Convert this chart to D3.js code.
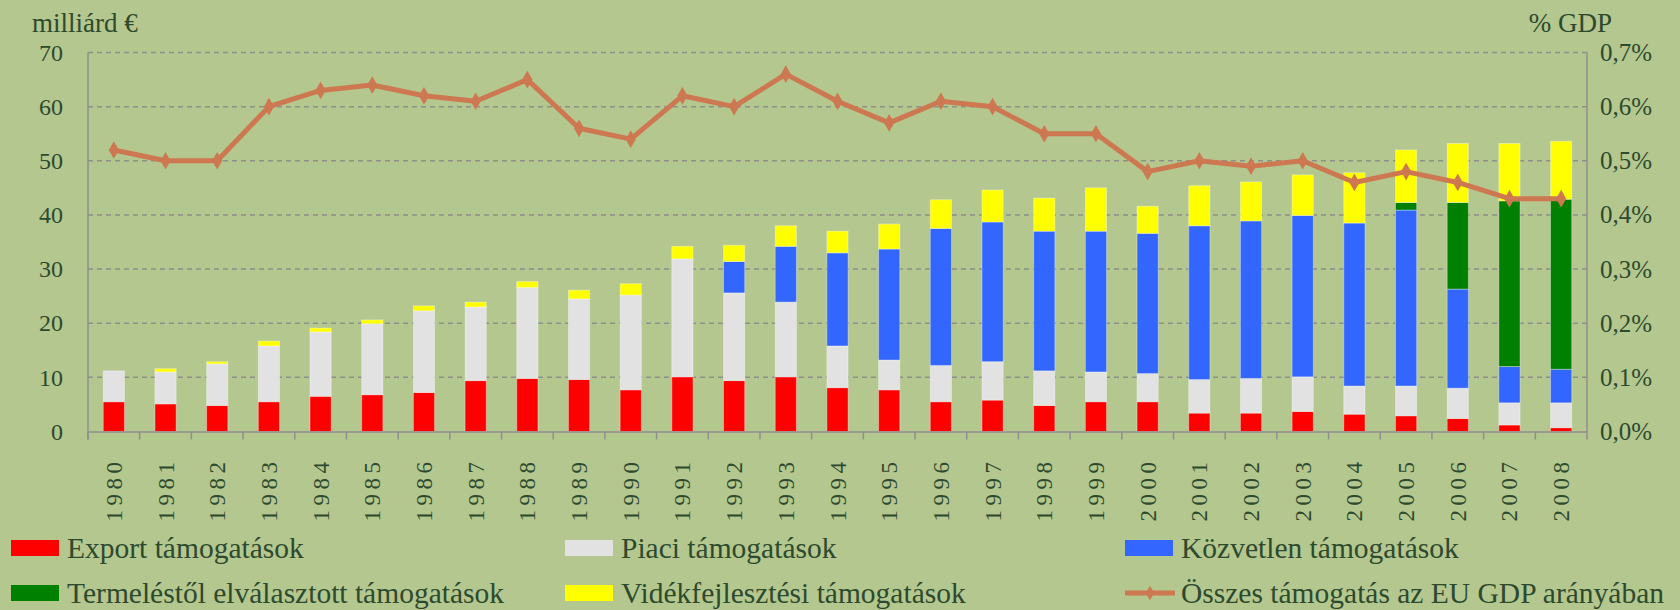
<!DOCTYPE html>
<html>
<head>
<meta charset="utf-8">
<script src="https://cdn.jsdelivr.net/npm/d3@7"></script>
<style>
  body { margin: 0; background: #b3c78f; }
  svg { display: block; }
  text { font-family: "Liberation Serif", "DejaVu Serif", serif; fill: #2e4a2e; }
</style>
</head>
<body>
<main></main>
<script>
const WIDTH = 1680
const HEIGHT = 610

// data (milliárd €)
const years = ['1980','1981','1982','1983','1984','1985','1986','1987','1988','1989','1990','1991','1992','1993','1994','1995','1996','1997','1998','1999','2000','2001','2002','2003','2004','2005','2006','2007','2008']
const exportVals  = [5.5,5.1,4.8,5.5,6.5,6.8,7.2,9.4,9.8,9.6,7.7,10.1,9.4,10.1,8.1,7.7,5.5,5.8,4.8,5.5,5.5,3.4,3.4,3.7,3.2,2.9,2.4,1.2,0.7]
const piaciVals   = [5.7,5.9,7.7,10.3,11.9,13.1,15.1,13.6,16.8,14.9,17.5,21.8,16.2,13.8,7.7,5.5,6.7,7.1,6.4,5.5,5.2,6.2,6.4,6.4,5.2,5.5,5.6,4.1,4.6]
const kozvetlenVals = [0,0,0,0,0,0,0,0,0,0,0,0,5.8,10.3,17.2,20.5,25.3,25.8,25.8,26.0,25.9,28.4,29.1,29.8,30.1,32.5,18.3,6.7,6.2]
const termelesVals = [0,0,0,0,0,0,0,0,0,0,0,0,0,0,0,0,0,0,0,0,0,0,0,0,0,1.4,16.0,30.6,31.4]
const videkVals   = [0,0.6,0.4,0.9,0.7,0.7,0.9,0.9,1.1,1.6,2.1,2.3,3.0,3.8,4.0,4.6,5.3,5.9,6.1,8.0,5.0,7.4,7.2,7.5,9.3,9.7,10.9,10.6,10.7]
// összes támogatás az EU GDP arányában (%)
const gdpShare = [0.52,0.50,0.50,0.60,0.63,0.64,0.62,0.61,0.65,0.56,0.54,0.62,0.60,0.66,0.61,0.57,0.61,0.60,0.55,0.55,0.48,0.50,0.49,0.50,0.46,0.48,0.46,0.43,0.43]

const leftTicks = [0,10,20,30,40,50,60,70]
const rightTicks = [0,0.1,0.2,0.3,0.4,0.5,0.6,0.7]

const seriesNames = ['Export támogatások','Piaci támogatások','Közvetlen támogatások','Termeléstől elválasztott támogatások','Vidékfejlesztési támogatások']
const lineName = 'Összes támogatás az EU GDP arányában'
const colors = ['#ff0000','#e2e2e2','#3366ff','#008000','#ffff00']
const lineColor = '#cd7850'

const plotLeft = 88, plotRight = 1587, plotTop = 52.5, plotBottom = 431.5

const svgCanvas = d3.select('main').append('svg')
  .attr('width', WIDTH)
  .attr('height', HEIGHT)

svgCanvas.append('rect').attr('width', WIDTH).attr('height', HEIGHT).attr('fill', '#b3c78f')

const x = d3.scaleBand().domain(years).range([plotLeft, plotRight]).padding(0)
const y = d3.scaleLinear().domain([0, 70]).range([plotBottom, plotTop])
const yR = d3.scaleLinear().domain([0, 0.7]).range([plotBottom, plotTop])

// gridlines
svgCanvas.selectAll('line.grid')
  .data(leftTicks.slice(1))
  .enter()
  .append('line')
  .attr('class', 'grid')
  .attr('x1', plotLeft).attr('x2', plotRight)
  .attr('y1', d => y(d)).attr('y2', d => y(d))
  .style('stroke', '#8d918a')
  .style('stroke-width', 1.5)
  .style('stroke-dasharray', '5,4')

// stacked bars
const table = years.map((yr, i) => ({
  year: yr,
  s0: exportVals[i], s1: piaciVals[i], s2: kozvetlenVals[i], s3: termelesVals[i], s4: videkVals[i]
}))
const stack = d3.stack().keys(['s0','s1','s2','s3','s4'])
const layers = stack(table)
const barW = x.bandwidth() * 0.41

svgCanvas.selectAll('g.layer')
  .data(layers)
  .enter()
  .append('g')
  .attr('class', 'layer')
  .attr('fill', (d, i) => colors[i])
  .selectAll('rect')
  .data(d => d.filter(p => p[1] - p[0] > 0))
  .enter()
  .append('rect')
  .attr('x', d => x(d.data.year) + (x.bandwidth() - barW) / 2)
  .attr('width', barW)
  .attr('y', d => y(d[1]))
  .attr('height', d => y(d[0]) - y(d[1]))
  .style('stroke', 'rgba(255,255,255,0.35)')
  .style('stroke-width', 1)

// axes lines
const axisColor = '#8f8f8f'
svgCanvas.append('line')
  .attr('x1', plotLeft).attr('x2', plotLeft).attr('y1', plotTop).attr('y2', plotBottom + 8)
  .style('stroke', axisColor).style('stroke-width', 1.5)
svgCanvas.append('line')
  .attr('x1', plotRight).attr('x2', plotRight).attr('y1', plotTop).attr('y2', plotBottom + 8)
  .style('stroke', axisColor).style('stroke-width', 1.5)

// bottom axis with ticks between categories
const xAxis = d3.axisBottom(x).tickSize(0).tickFormat('')
const gx = svgCanvas.append('g').attr('transform', `translate(0,${plotBottom})`).call(xAxis)
gx.select('.domain').style('stroke', axisColor).style('stroke-width', 1.5)
svgCanvas.selectAll('line.xtick')
  .data(years)
  .enter()
  .append('line')
  .attr('class', 'xtick')
  .attr('x1', d => x(d)).attr('x2', d => x(d))
  .attr('y1', plotBottom).attr('y2', plotBottom + 8)
  .style('stroke', axisColor).style('stroke-width', 1.5)

// year labels, rotated
svgCanvas.selectAll('text.year')
  .data(years)
  .enter()
  .append('text')
  .attr('class', 'year')
  .attr('transform', d => `translate(${x(d) + x.bandwidth() / 2 + 8},${plotBottom + 26}) rotate(-90)`)
  .attr('text-anchor', 'end')
  .style('font-size', '23px')
  .style('letter-spacing', '4.5px')
  .text(d => d)

// left axis
const yAxis = d3.axisLeft(y).tickValues(leftTicks).tickSize(0).tickPadding(25)
const gy = svgCanvas.append('g').attr('transform', `translate(${plotLeft},0)`).call(yAxis)
gy.select('.domain').remove()
gy.selectAll('text').style('font-size', '24px').attr('font-family', null).style('fill', '#2e4a2e')

// right axis
const yRAxis = d3.axisRight(yR).tickValues(rightTicks).tickSize(0).tickPadding(13)
  .tickFormat(d => d3.format('.1f')(d * 1).replace('.', ',') + '%')
const gyR = svgCanvas.append('g').attr('transform', `translate(${plotRight},0)`).call(yRAxis)
gyR.select('.domain').remove()
gyR.selectAll('text').style('font-size', '25px').attr('font-family', null).style('fill', '#2e4a2e')

// axis titles
svgCanvas.append('text').attr('x', 32).attr('y', 32).style('font-size', '27px').text('milliárd €')
svgCanvas.append('text').attr('x', 1612).attr('y', 32).attr('text-anchor', 'end').style('font-size', '27px').text('% GDP')

// line
const line = d3.line()
  .x((d, i) => x(years[i]) + x.bandwidth() / 2)
  .y(d => yR(d))

svgCanvas.append('path')
  .datum(gdpShare)
  .attr('d', line)
  .style('fill', 'none')
  .style('stroke', lineColor)
  .style('stroke-width', 5)
  .style('stroke-linejoin', 'round')

const diamond = d3.symbol().type(d3.symbolDiamond).size(90)
svgCanvas.selectAll('path.marker')
  .data(gdpShare)
  .enter()
  .append('path')
  .attr('class', 'marker')
  .attr('d', diamond)
  .attr('transform', (d, i) => `translate(${x(years[i]) + x.bandwidth() / 2},${yR(d)})`)
  .style('fill', lineColor)

// legend
const legendItems = [
  {name: seriesNames[0], color: colors[0], x: 11, y: 548, type: 'rect'},
  {name: seriesNames[1], color: colors[1], x: 565, y: 548, type: 'rect'},
  {name: seriesNames[2], color: colors[2], x: 1125, y: 548, type: 'rect'},
  {name: seriesNames[3], color: colors[3], x: 11, y: 593, type: 'rect'},
  {name: seriesNames[4], color: colors[4], x: 565, y: 593, type: 'rect'},
  {name: lineName, color: lineColor, x: 1125, y: 593, type: 'line'}
]

const legend = svgCanvas.selectAll('g.legend')
  .data(legendItems)
  .enter()
  .append('g')
  .attr('class', 'legend')
  .attr('transform', d => `translate(${d.x},${d.y})`)

legend.filter(d => d.type === 'rect')
  .append('rect')
  .attr('x', 0).attr('y', -8).attr('width', 48).attr('height', 16)
  .attr('fill', d => d.color)

legend.filter(d => d.type === 'line')
  .append('line')
  .attr('x1', 0).attr('x2', 50).attr('y1', 0).attr('y2', 0)
  .style('stroke', d => d.color).style('stroke-width', 5)

legend.filter(d => d.type === 'line')
  .append('path')
  .attr('d', d3.symbol().type(d3.symbolDiamond).size(60))
  .attr('transform', 'translate(25,0)')
  .style('fill', d => d.color)

legend.append('text')
  .attr('x', 56)
  .attr('y', 0)
  .attr('dy', '0.33em')
  .style('font-size', '29.5px')
  .text(d => d.name)
</script>
</body>
</html>
